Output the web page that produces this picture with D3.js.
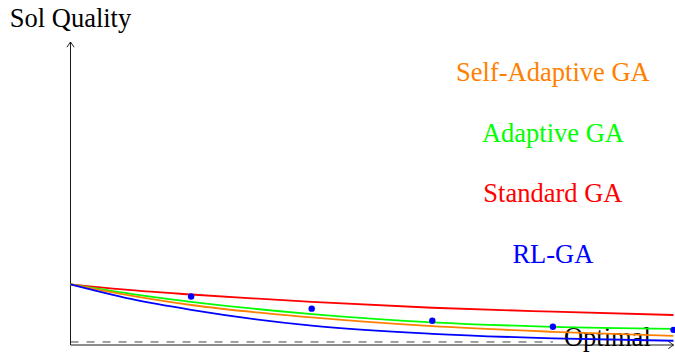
<!DOCTYPE html>
<html>
<head>
<meta charset="utf-8">
<script src="https://cdn.jsdelivr.net/npm/d3@7"></script>
<style>
  html, body { margin: 0; padding: 0; background: #fff; }
  svg { display: block; }
</style>
</head>
<body>
<svg id="chart" width="675" height="352"></svg>
<script>
// Generations on the x axis, solution quality (distance from optimum) on the y axis
const xSteps = [0, 0.5, 1, 2, 3, 4, 5];

const standardGA     = [1.00, 0.905, 0.833, 0.710, 0.615, 0.550, 0.495];
const adaptiveGA     = [1.00, 0.845, 0.713, 0.510, 0.375, 0.300, 0.265];
const selfAdaptiveGA = [1.00, 0.815, 0.660, 0.455, 0.310, 0.218, 0.150];
const rlGA           = [1.00, 0.760, 0.580, 0.320, 0.185, 0.110, 0.070];

// Sampled RL-GA runs
const sampleX = [1, 2, 3, 4, 5];
const sampleY = [0.80, 0.60, 0.40, 0.30, 0.25];

const optimalLevel = 0.05;
const optimalEnd = 4;

const seriesNames  = ["Self-Adaptive GA", "Adaptive GA", "Standard GA", "RL-GA"];
const seriesColors = ["#ff8000", "#00ff00", "#ff0000", "#0000ff"];
const labelY       = [4.5, 3.5, 2.5, 1.5];
const labelX       = 4;

const FONT = '"Liberation Serif", "Times New Roman", serif';
const FONT_SIZE = 26.5;

const svg = d3.select("#chart");

const x = d3.scaleLinear().domain([0, 5]).range([70.5, 673.5]);
const y = d3.scaleLinear().domain([0, 5]).range([345, 42]);

// Axes with open arrow tips
const axisG = svg.append("g").attr("stroke", "#000").attr("stroke-width", 0.9).attr("fill", "none");
axisG.append("line").attr("x1", x(0)).attr("y1", y(0)).attr("x2", x(0)).attr("y2", y(5));
axisG.append("line").attr("x1", x(0)).attr("y1", y(0)).attr("x2", x(5)).attr("y2", y(0));
const tip = "M-3.6,5.2 Q-1.2,1.6 0,0 Q1.2,1.6 3.6,5.2";
axisG.append("path").attr("d", tip).attr("transform", `translate(${x(0)},${y(5)})`);
axisG.append("path").attr("d", tip).attr("transform", `translate(${x(5)},${y(0)}) rotate(90)`);

svg.append("text")
  .attr("x", x(0)).attr("y", y(5) - 15)
  .attr("text-anchor", "middle")
  .style("font-family", FONT)
  .style("font-size", FONT_SIZE + "px")
  .attr("fill", "#000")
  .text("Sol Quality");

// Optimal reference line
svg.append("line")
  .attr("x1", x(0)).attr("y1", y(optimalLevel))
  .attr("x2", x(optimalEnd)).attr("y2", y(optimalLevel))
  .attr("stroke", "#444").attr("stroke-width", 1)
  .attr("stroke-dasharray", "8,8");

svg.append("text")
  .attr("x", x(optimalEnd) + 11).attr("y", y(optimalLevel) + 4.5)
  .style("font-family", FONT)
  .style("font-size", FONT_SIZE + "px")
  .attr("fill", "#000")
  .text("Optimal");

// Convergence curves
const line = d3.line()
  .x(d => x(d[0]))
  .y(d => y(d[1]))
  .curve(d3.curveMonotoneX);

const curves = [
  { values: standardGA,     color: "#ff0000" },
  { values: adaptiveGA,     color: "#00ff00" },
  { values: selfAdaptiveGA, color: "#ff8000" },
  { values: rlGA,           color: "#0000ff" }
];

svg.append("g").selectAll("path")
  .data(curves)
  .join("path")
  .attr("fill", "none")
  .attr("stroke", d => d.color)
  .attr("stroke-width", 1.8)
  .attr("d", d => line(xSteps.map((xv, i) => [xv, d.values[i]])));

svg.append("g").selectAll("circle")
  .data(sampleX.map((xv, i) => [xv, sampleY[i]]))
  .join("circle")
  .attr("cx", d => x(d[0]))
  .attr("cy", d => y(d[1]))
  .attr("r", 3.2)
  .attr("fill", "#0000ff");

// Series labels
svg.append("g").selectAll("text")
  .data(seriesNames)
  .join("text")
  .attr("x", x(labelX))
  .attr("y", (d, i) => y(labelY[i]))
  .attr("dy", "0.33em")
  .attr("text-anchor", "middle")
  .style("font-family", FONT)
  .style("font-size", FONT_SIZE + "px")
  .attr("fill", (d, i) => seriesColors[i])
  .text(d => d);
</script>
</body>
</html>
